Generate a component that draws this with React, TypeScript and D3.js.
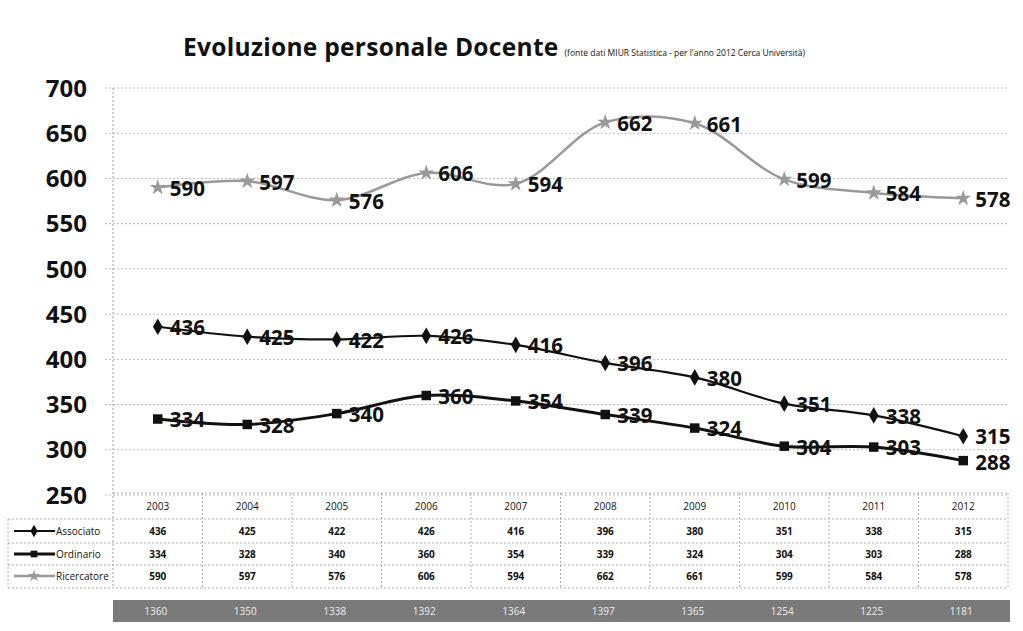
import React from 'react';
import * as d3 from 'd3';

const years = ['2003', '2004', '2005', '2006', '2007', '2008', '2009', '2010', '2011', '2012'];
const associato = [436, 425, 422, 426, 416, 396, 380, 351, 338, 315];
const ordinario = [334, 328, 340, 360, 354, 339, 324, 304, 303, 288];
const ricercatore = [590, 597, 576, 606, 594, 662, 661, 599, 584, 578];
const totali = [1360, 1350, 1338, 1392, 1364, 1397, 1365, 1254, 1225, 1181];
const yTicks = [250, 300, 350, 400, 450, 500, 550, 600, 650, 700];

const W = 1023;
const H = 631;
const left = 113;
const right = 1008;
const top = 88;
const bottom = 495;

const font = 'Open Sans, Lato, sans-serif';

const series = [
  { name: 'Associato', values: associato, color: '#111', width: 2.2, marker: 'diamond' },
  { name: 'Ordinario', values: ordinario, color: '#111', width: 3, marker: 'square' },
  { name: 'Ricercatore', values: ricercatore, color: '#999', width: 2.5, marker: 'star' },
];

const symbolFor = (m: string) =>
  m === 'diamond' ? d3.symbolDiamond : m === 'square' ? d3.symbolSquare : d3.symbolStar;

const App: React.FC = () => {
  const x = d3.scaleBand<string>().domain(years).range([left, right]);
  const y = d3.scaleLinear().domain([250, 700]).range([bottom, top]);
  const cx = (yr: string) => (x(yr) as number) + x.bandwidth() / 2;

  const line = d3.line<number>()
    .x((_, i) => cx(years[i]))
    .y(d => y(d))
    .curve(d3.curveCatmullRom.alpha(0.5));

  // label positions, pushed apart where two series come close at the same year
  const minGap = 26;
  const labelY: number[][] = series.map(s => s.values.map(v => y(v) + 1));
  years.forEach((_, i) => {
    const order = series.map((_, k) => k).sort((a, b) => labelY[a][i] - labelY[b][i]);
    for (let j = 1; j < order.length; j++) {
      const a = order[j - 1];
      const b = order[j];
      const gap = labelY[b][i] - labelY[a][i];
      if (gap < minGap) {
        const d = (minGap - gap) / 2;
        labelY[a][i] -= d;
        labelY[b][i] += d;
      }
    }
  });

  const rowY = [493, 519, 543, 565, 588];
  const rowMid = [506, 531, 554, 576];

  return (
    <svg width={W} height={H} style={{ position: 'absolute', left: 0, top: 0, background: '#fff' }}>
      <rect width={W} height={H} fill="#fff" />
      {/* title */}
      <text x={183} y={56} fontFamily={font} fontWeight="bold" fontSize={24.5} fill="#111" letterSpacing={0.3}>
        Evoluzione personale Docente
        <tspan fontSize={8.5} fontWeight="normal" dx={6} letterSpacing={0}>(fonte dati MIUR Statistica - per l'anno 2012 Cerca Università)</tspan>
      </text>

      {/* grid */}
      {yTicks.map(t => (
        <g key={t}>
          <line x1={105} x2={right} y1={y(t)} y2={y(t)} stroke="#aaa" strokeWidth={0.8} strokeDasharray="2,2" />
          <text x={87} y={y(t)} dy="0.36em" textAnchor="end" fontFamily={font} fontWeight="bold" fontSize={24} fill="#111">
            {t}
          </text>
        </g>
      ))}
      <line x1={left} x2={left} y1={top} y2={rowY[4]} stroke="#888" strokeWidth={0.8} strokeDasharray="2,2" />

      {/* series */}
      {series.map((s, k) => (
        <g key={s.name}>
          <path d={line(s.values) || ''} fill="none" stroke={s.color} strokeWidth={s.width} />
          {s.values.map((v, i) => (
            <path
              key={i}
              transform={`translate(${cx(years[i])},${y(v)})`}
              d={d3.symbol().type(symbolFor(s.marker)).size(s.marker === 'square' ? 90 : 80)() || ''}
              fill={s.color}
            />
          ))}
          {s.values.map((v, i) => (
            <text
              key={'l' + i}
              x={cx(years[i]) + 12}
              y={labelY[k][i]}
              dy="0.36em"
              fontFamily={font}
              fontWeight="bold"
              fontSize={20.5}
              fill="#111"
            >
              {v}
            </text>
          ))}
        </g>
      ))}

      {/* data table */}
      {rowY.slice(1).map(ry => (
        <line key={ry} x1={8} x2={right} y1={ry} y2={ry} stroke="#999" strokeWidth={0.8} strokeDasharray="2,2" />
      ))}
      <line x1={left} x2={right} y1={rowY[0]} y2={rowY[0]} stroke="#999" strokeWidth={0.8} strokeDasharray="2,2" />
      <line x1={8} x2={8} y1={rowY[1]} y2={rowY[4]} stroke="#999" strokeWidth={0.8} strokeDasharray="2,2" />
      {years.map(yr => (
        <line key={'v' + yr} x1={(x(yr) as number) + x.bandwidth()} x2={(x(yr) as number) + x.bandwidth()}
          y1={rowY[0]} y2={rowY[4]} stroke="#999" strokeWidth={0.8} strokeDasharray="2,2" />
      ))}
      {years.map(yr => (
        <text key={'h' + yr} x={cx(yr)} y={rowMid[0]} dy="0.36em" textAnchor="middle" fontFamily={font} fontSize={10} fill="#111">
          {yr}
        </text>
      ))}
      {series.map((s, r) => (
        <g key={'row' + s.name}>
          <line x1={14} x2={55} y1={rowMid[r + 1]} y2={rowMid[r + 1]} stroke={s.color} strokeWidth={s.width} />
          <path transform={`translate(34,${rowMid[r + 1]})`}
            d={d3.symbol().type(symbolFor(s.marker)).size(45)() || ''} fill={s.color} />
          <text x={56} y={rowMid[r + 1]} dy="0.36em" fontFamily={font} fontSize={10} fill="#111">{s.name}</text>
          {s.values.map((v, i) => (
            <text key={i} x={cx(years[i])} y={rowMid[r + 1]} dy="0.36em" textAnchor="middle"
              fontFamily={font} fontWeight="bold" fontSize={10} fill="#111">
              {v}
            </text>
          ))}
        </g>
      ))}

      {/* totals bar */}
      <rect x={left} y={600} width={right - left + 2} height={22} fill="#7a7a7a" />
      {totali.map((v, i) => (
        <text key={'t' + i} x={cx(years[i]) - 2} y={611} dy="0.36em" textAnchor="middle"
          fontFamily={font} fontSize={10} fill="#eee">
          {v}
        </text>
      ))}
    </svg>
  );
};

export default App;
